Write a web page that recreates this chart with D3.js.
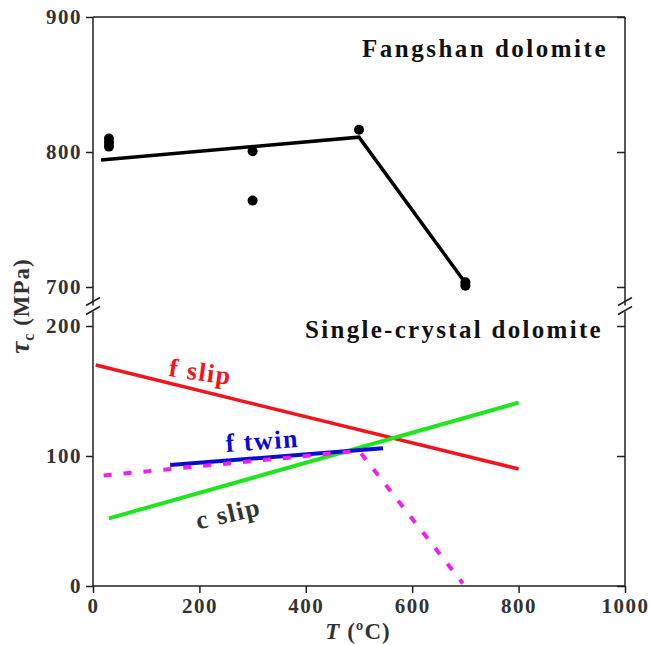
<!DOCTYPE html>
<html>
<head>
<meta charset="utf-8">
<script src="https://cdn.jsdelivr.net/npm/d3@7"></script>
<style>
  body { margin: 0; background: #fff; }
  svg text { font-family: "Liberation Serif", "Times New Roman", serif; font-weight: bold; }
</style>
</head>
<body>
<svg width="649" height="645"></svg>
<script>
// Fangshan dolomite measurements
var fangT = [30, 30, 30, 300, 300, 500, 700, 700];
var fangTau = [804, 807, 810, 800.5, 764, 816.5, 703.5, 701];
// fitted line through them
var fitT = [15, 500, 700];
var fitTau = [794, 811, 703];

// single-crystal lines
var fSlipT = [5, 800],   fSlipTau = [170, 90];
var cSlipT = [30, 800],  cSlipTau = [52, 141];
var fTwinT = [145, 545], fTwinTau = [93, 106];
var dashT = [20, 500, 695], dashTau = [85, 104, 2];

var xTicks = [0, 200, 400, 600, 800, 1000];
var topTicks = [700, 800, 900];
var botTicks = [0, 100, 200];

var axisColor = "#231f20";
var svg = d3.select("svg");

var x = d3.scaleLinear().domain([0, 1000]).range([93, 625]);
var yTop = d3.scaleLinear().domain([700, 900]).range([287, 17]);
var yBot = d3.scaleLinear().domain([0, 200]).range([586, 326]);

var toPts = function(ts, vs) {
  return ts.map(function(t, i) { return [t, vs[i]]; });
};

// frame
svg.append("line").attr("x1", x(0)).attr("x2", x(1000))
  .attr("y1", yTop(900)).attr("y2", yTop(900))
  .attr("stroke", axisColor).attr("stroke-width", 1.5);

// axes
var styleAxis = function(g) {
  g.selectAll(".domain").remove();
  g.selectAll("line").attr("stroke", axisColor).attr("stroke-width", 1.5);
  g.selectAll("text").attr("fill", "#333").style("font-size", "21px")
    .style("font-weight", "bold").style("letter-spacing", "1.5px");
};

svg.append("g").attr("transform", "translate(" + x(0) + ",0)")
  .call(d3.axisLeft(yTop).tickValues(topTicks).tickSize(7).tickPadding(4))
  .call(styleAxis);
svg.append("g").attr("transform", "translate(" + x(0) + ",0)")
  .call(d3.axisLeft(yBot).tickValues(botTicks).tickSize(7).tickPadding(4))
  .call(styleAxis);
// right side, ticks pointing inward
svg.append("g").attr("transform", "translate(" + x(1000) + ",0)")
  .call(d3.axisRight(yTop).tickValues(topTicks).tickSize(-8).tickFormat(""))
  .call(styleAxis);
svg.append("g").attr("transform", "translate(" + x(1000) + ",0)")
  .call(d3.axisRight(yBot).tickValues(botTicks).tickSize(-8).tickFormat(""))
  .call(styleAxis);

svg.append("g").attr("transform", "translate(0," + yBot(0) + ")")
  .call(d3.axisBottom(x).tickValues(xTicks).tickSize(7).tickPadding(5)
    .tickFormat(d3.format("d")))
  .call(styleAxis);
svg.append("line").attr("x1", x(0)).attr("x2", x(1000))
  .attr("y1", yBot(0)).attr("y2", yBot(0))
  .attr("stroke", axisColor).attr("stroke-width", 1.5);

// vertical axis lines with break marks
var breakY = (yTop(700) + yBot(200)) / 2;
[x(0), x(1000)].forEach(function(px) {
  svg.append("line").attr("x1", px).attr("x2", px)
    .attr("y1", yTop(900)).attr("y2", breakY - 1)
    .attr("stroke", axisColor).attr("stroke-width", 1.5);
  svg.append("line").attr("x1", px).attr("x2", px)
    .attr("y1", breakY + 5).attr("y2", yBot(0))
    .attr("stroke", axisColor).attr("stroke-width", 1.5);
  [-5, 4].forEach(function(dy) {
    svg.append("line")
      .attr("x1", px - 7).attr("y1", breakY + dy + 4)
      .attr("x2", px + 7).attr("y2", breakY + dy - 4)
      .attr("stroke", axisColor).attr("stroke-width", 1.5);
  });
});

// top panel
var lineTop = d3.line().x(function(d) { return x(d[0]); }).y(function(d) { return yTop(d[1]); });
svg.append("path").datum(toPts(fitT, fitTau)).attr("d", lineTop)
  .attr("fill", "none").attr("stroke", "#000").attr("stroke-width", 3.5);
svg.selectAll("circle.fang").data(toPts(fangT, fangTau)).enter()
  .append("circle").attr("class", "fang")
  .attr("cx", function(d) { return x(d[0]); })
  .attr("cy", function(d) { return yTop(d[1]); })
  .attr("r", 5).attr("fill", "#000");

// bottom panel
var lineBot = d3.line().x(function(d) { return x(d[0]); }).y(function(d) { return yBot(d[1]); });
var series = [
  { t: fSlipT, v: fSlipTau, color: "#f0141e", w: 3.5, dash: null },
  { t: cSlipT, v: cSlipTau, color: "#1ee61e", w: 4, dash: null },
  { t: fTwinT, v: fTwinTau, color: "#0a0ad2", w: 4, dash: null },
  { t: dashT, v: dashTau, color: "#f01ef0", w: 4, dash: "8,12" }
];
series.forEach(function(s) {
  svg.append("path").datum(toPts(s.t, s.v)).attr("d", lineBot)
    .attr("fill", "none").attr("stroke", s.color)
    .attr("stroke-width", s.w).attr("stroke-dasharray", s.dash);
});

// labels on lines
var labels = [
  { text: "f slip", t: 202, v: 165, rot: 8, color: "#f0141e" },
  { text: "f twin", t: 318, v: 112, rot: -4, color: "#0a0ad2" },
  { text: "c slip", t: 254, v: 56, rot: -13, color: "#333" }
];
labels.forEach(function(l) {
  svg.append("text")
    .attr("transform", "translate(" + x(l.t) + "," + yBot(l.v) + ") rotate(" + l.rot + ")")
    .attr("text-anchor", "middle").attr("dy", "0.35em")
    .attr("fill", l.color).style("font-size", "26px").style("letter-spacing", "1.5px")
    .text(l.text);
});

// panel titles
svg.append("text").attr("x", 608).attr("y", 57).attr("text-anchor", "end")
  .style("font-size", "25px").style("letter-spacing", "2.5px").attr("fill", "#111")
  .text("Fangshan dolomite");
svg.append("text").attr("x", 603).attr("y", 338).attr("text-anchor", "end")
  .style("font-size", "25px").style("letter-spacing", "2.3px").attr("fill", "#111")
  .text("Single-crystal dolomite");

// axis titles
var xt = svg.append("text").attr("x", 358).attr("y", 639).attr("text-anchor", "middle")
  .attr("fill", "#333").style("font-size", "23px").style("letter-spacing", "1px");
xt.append("tspan").style("font-style", "italic").text("T");
xt.append("tspan").text(" (ºC)");

var yt = svg.append("text").attr("transform", "translate(29,306) rotate(-90)")
  .attr("text-anchor", "middle").attr("fill", "#333").style("font-size", "23px")
  .style("letter-spacing", "1px");
yt.append("tspan").style("font-style", "italic").style("font-size", "27px").text("τ");
yt.append("tspan").attr("dy", 5).style("font-size", "16px").text("c");
yt.append("tspan").attr("dy", -5).text(" (MPa)");
</script>
</body>
</html>
